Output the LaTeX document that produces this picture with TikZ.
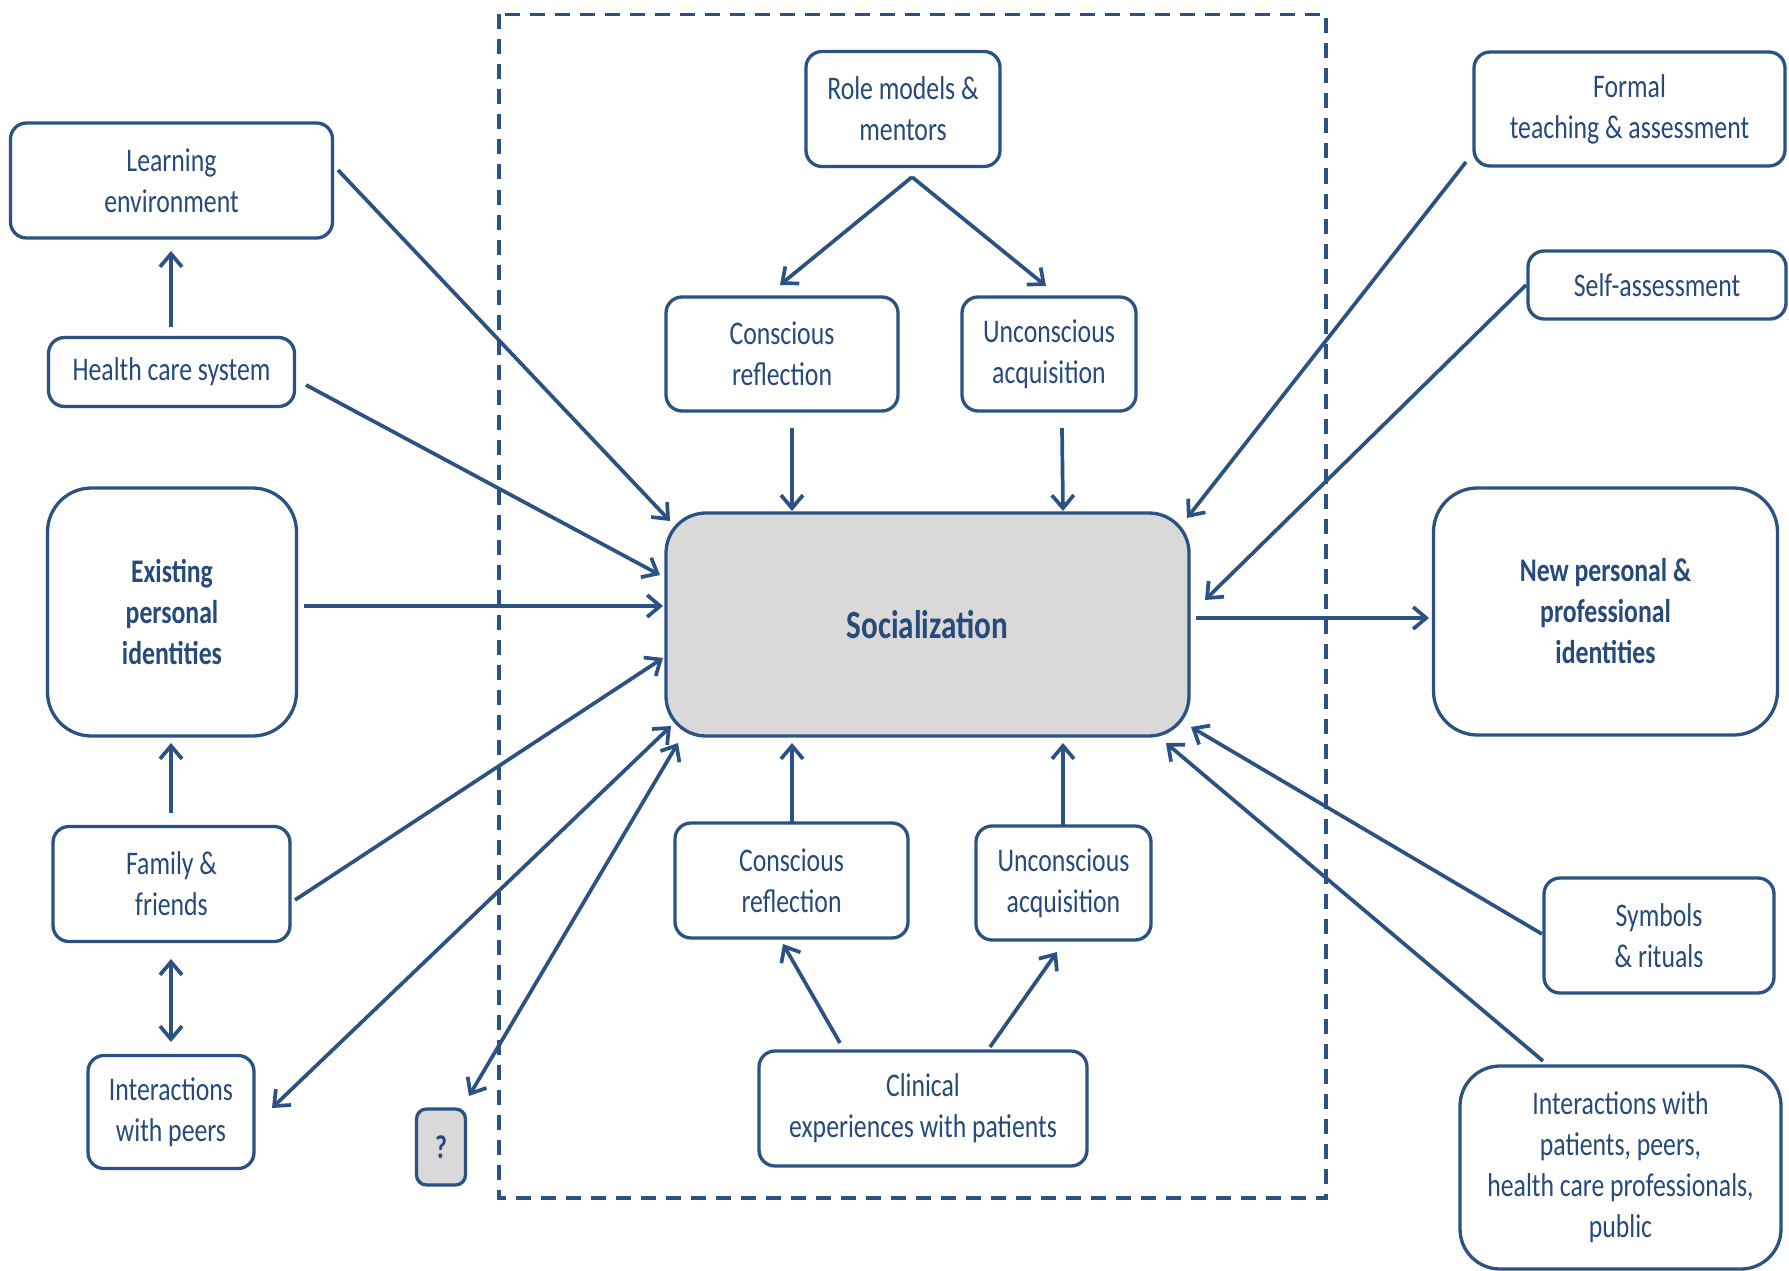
\documentclass[tikz,border=0pt]{standalone}
\usepackage{fontspec}
\setmainfont{Carlito}[FakeStretch=0.78]
\usetikzlibrary{arrows.meta}
\definecolor{lc}{HTML}{2B5283}
\definecolor{tc}{HTML}{264A7A}
\definecolor{sg}{HTML}{D9D9D9}
\newcommand\nfont{\fontsize{33}{41}\selectfont}
\newcommand\socfont{\fontsize{40}{48}\selectfont\bfseries}

\tikzset{
  box/.style={draw=lc, line width=3.3pt, rounded corners=16pt, fill=white,
    text=tc, align=center, inner sep=0pt, font=\nfont},
  bigbox/.style={box, rounded corners=44pt},
  sz/.style 2 args={minimum width=#1pt, minimum height=#2pt},
  tip/.tip={Straight Barb[length=13pt,width=22pt]},
  arr/.style={draw=lc, line width=3.7pt, -tip},
  darr/.style={draw=lc, line width=3.7pt, tip-tip},
  frame/.style={draw=lc, line width=3.3pt, dash pattern=on 15pt off 10pt}
}

\begin{document}
\begin{tikzpicture}[x=1pt,y=-1pt]
\fill[white] (0,0) rectangle (1789,1271);
\useasboundingbox (0,0) rectangle (1789,1271);

% dashed frame around the socialization core
\draw[frame] (499,14.5) rectangle (1326,1198);

% left column
\node[box, sz={322}{115}] (le) at (171.5,180.5) {Learning\\environment};
\node[box, sz={246}{69}] (hcs) at (171.5,372) {Health care system};
\node[bigbox, sz={249}{248}, font=\nfont\bfseries] (epi) at (172,612) {Existing\\personal\\identities};
\node[box, sz={237}{115}] (ff) at (171.5,884) {Family \&\\friends};
\node[box, sz={166}{113}] (iwp) at (171,1112) {Interactions\\with peers};
\node[box, sz={49}{76}, fill=sg, rounded corners=10pt, font=\nfont\bfseries] (q) at (441,1147) {?};

% central column
\node[box, sz={194}{115}] (rm) at (903,109) {Role models \&\\mentors};
\node[box, sz={232}{114}] (cr1) at (782,354) {Conscious\\reflection};
\node[box, sz={174}{114}] (ua1) at (1049,354) {Unconscious\\acquisition};
\node[bigbox, sz={523}{223}, fill=sg, rounded corners=40pt, font=\socfont] (soc) at (927.5,624.5) {Socialization};
\node[box, sz={233}{115}] (cr2) at (791.5,880.5) {Conscious\\reflection};
\node[box, sz={175}{114}] (ua2) at (1063.5,883) {Unconscious\\acquisition};
\node[box, sz={328}{115}] (ce) at (923,1108.5) {Clinical\\experiences with patients};

% right column
\node[box, sz={311}{114}] (ft) at (1629.5,109) {Formal\\teaching \& assessment};
\node[box, sz={258}{68}] (sa) at (1657,285) {Self-assessment};
\node[bigbox, sz={344}{247}, font=\nfont\bfseries] (np) at (1605.5,611.5) {New personal \&\\professional\\identities};
\node[box, sz={230}{115}] (sr) at (1659,935.5) {Symbols\\\& rituals};
\node[bigbox, sz={321}{203}, rounded corners=40pt] (iwpp) at (1620.5,1167.5) {Interactions with\\patients, peers,\\health care professionals,\\public};

% left-side influences
\draw[arr] ([shift={(-0.5,-45)}]hcs.center) -- ([shift={(-0.5,70.5)}]le.center);
\draw[arr] ([shift={(-0.5,-71)}]ff.center) -- ([shift={(-1,131)}]epi.center);
\draw[darr] ([shift={(-0.5,75)}]ff.center) -- ([shift={(0,-70)}]iwp.center);
\draw[arr] ([shift={(166.5,-10.5)}]le.center) -- ([shift={(-257.5,-103.5)}]soc.center);
\draw[arr] ([shift={(134.5,13)}]hcs.center) -- ([shift={(-267.5,-49.5)}]soc.center);
\draw[arr] ([shift={(132,-6)}]epi.center) -- ([shift={(-264.5,-18.5)}]soc.center);
\draw[arr] ([shift={(123.5,16)}]ff.center) -- ([shift={(-264.5,33.5)}]soc.center);
\draw[darr] ([shift={(101,-4)}]iwp.center) -- ([shift={(-256.5,101.5)}]soc.center);
\draw[darr] ([shift={(28,-51)}]q.center) -- ([shift={(-249.5,118.5)}]soc.center);

% role models branch
\draw[arr] ([shift={(9,68)}]rm.center) -- ([shift={(-2,-69)}]cr1.center);
\draw[arr] ([shift={(9,68)}]rm.center) -- ([shift={(-3,-68)}]ua1.center);
\draw[arr] ([shift={(10,74)}]cr1.center) -- ([shift={(-135.5,-113.5)}]soc.center);
\draw[arr] ([shift={(13,74)}]ua1.center) -- ([shift={(135.5,-113.5)}]soc.center);

% clinical experience branch
\draw[arr] ([shift={(-83,-65.5)}]ce.center) -- ([shift={(-8.5,63.5)}]cr2.center);
\draw[arr] ([shift={(67,-61.5)}]ce.center) -- ([shift={(-6.5,69)}]ua2.center);
\draw[arr] ([shift={(0.5,-58.5)}]cr2.center) -- ([shift={(-135.5,118.5)}]soc.center);
\draw[arr] ([shift={(-0.5,-58)}]ua2.center) -- ([shift={(135.5,118.5)}]soc.center);

% right-side influences and outcome
\draw[arr] ([shift={(-163.5,53)}]ft.center) -- ([shift={(259.5,-106.5)}]soc.center);
\draw[arr] ([shift={(-131,0)}]sa.center) -- ([shift={(277.5,-24.5)}]soc.center);
\draw[arr] ([shift={(268.5,-6.5)}]soc.center) -- ([shift={(-176.5,6.5)}]np.center);
\draw[arr] ([shift={(-117,-1.5)}]sr.center) -- ([shift={(263.5,102.5)}]soc.center);
\draw[arr] ([shift={(-77.5,-106.5)}]iwpp.center) -- ([shift={(238.5,118.5)}]soc.center);
\end{tikzpicture}
\end{document}
